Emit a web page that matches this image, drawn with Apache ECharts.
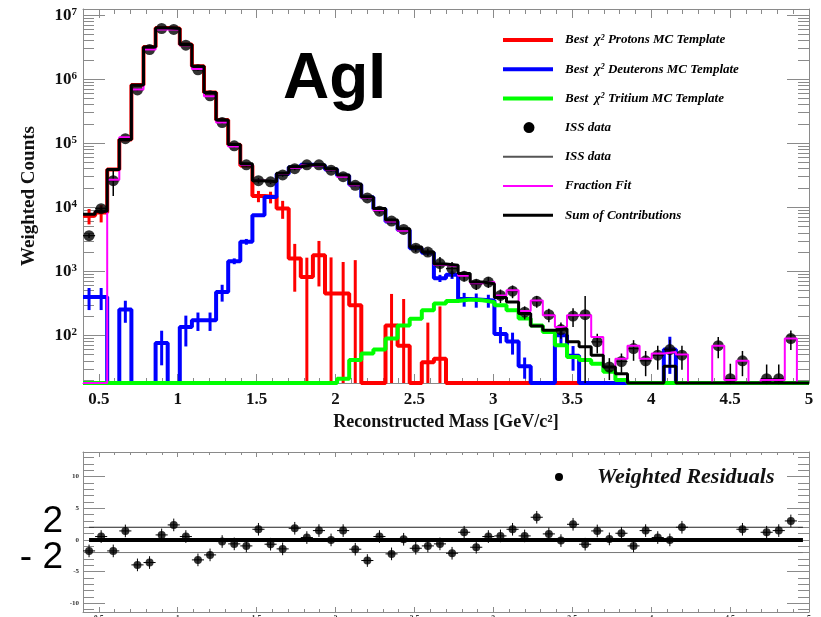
<!DOCTYPE html>
<html>
<head>
<meta charset="utf-8">
<script src="https://cdn.jsdelivr.net/npm/echarts@6.0.0/dist/echarts.min.js"></script>
<style>
  html, body { margin: 0; padding: 0; background: #fff; }
  #chart { width: 821px; height: 617px; }
</style>
</head>
<body>
<div id="chart"></div>
<script>
// ---- binning of the mass histograms ----
const X_MIN = 0.4;
const X_MAX = 5.0;
const N_BINS = 60;
const Y_MIN = 18;        // lower edge of the log axis
const Y_MAX = 1.25e7;    // upper edge of the log axis
const RES_MIN = -11.4;
const RES_MAX = 13.9;

// ---- bin contents, one value per mass bin (0 = empty bin) ----
const issData = [
  3600, 9500, 26000, 118000, 680000, 2900000, 6200000, 6000000, 3400000, 1400000,
  550000, 210000, 91000, 46000, 26000, 25000, 32000, 40000, 46000, 46000,
  38000, 30000, 22000, 14000, 8700, 6100, 4500, 2300, 2000, 1320,
  1100, 840, 630, 680, 420, 490, 230, 340, 210, 123,
  200, 210, 79, 32, 39, 62, 40, 49, 60, 49,
  0, 0, 69, 21, 40, 0, 21, 21, 89, 0
];
const issErr = [
  300, 800, 11000, 9000, 30000, 60000, 80000, 80000, 60000, 40000,
  20000, 10000, 5000, 3000, 2500, 2000, 2000, 2000, 2000, 2000,
  2000, 1500, 1200, 900, 700, 500, 400, 300, 280, 350,
  300, 150, 120, 130, 100, 110, 53, 70, 50, 35,
  65, 200, 27, 12, 13, 22, 17, 20, 25, 20,
  0, 0, 25, 15, 17, 0, 14, 14, 30, 0
];
const fractionFit = [
  0, 0, 27000, 124000, 690000, 2900000, 6000000, 6000000, 3400000, 1440000,
  540000, 210000, 89000, 46000, 26000, 25000, 33000, 41000, 45000, 45000,
  39000, 30000, 22000, 14000, 9000, 6000, 4300, 2400, 2000, 1250,
  1200, 850, 650, 680, 420, 505, 240, 350, 205, 135,
  205, 205, 94, 32, 43, 69, 43, 52, 55, 50,
  0, 0, 69, 20, 40, 0, 20, 20, 89, 0
];
const sumContrib = [
  7800, 8700, 39000, 114000, 810000, 3200000, 6300000, 6200000, 3500000, 1600000,
  620000, 230000, 96000, 48000, 26000, 25000, 34000, 43000, 46000, 46000,
  40000, 32000, 23000, 14500, 9600, 6300, 4600, 2400, 2000, 1300,
  1240, 920, 680, 640, 390, 330, 220, 140, 120, 127,
  79, 66, 49, 32, 25, 0, 0, 0, 33, 0,
  0, 0, 0, 0, 0, 0, 0, 0, 0, 0
];
const protons = [
  7400, 8300, 39000, 114000, 810000, 3200000, 6300000, 6200000, 3500000, 1600000,
  620000, 230000, 95000, 45000, 15000, 14500, 9600, 1580, 813, 1780,
  448, 448, 294, 0, 0, 143, 69, 0, 38, 43,
  0, 0, 0, 0, 0, 0, 0, 0, 0, 0,
  0, 0, 0, 0, 0, 0, 0, 0, 0, 0,
  0, 0, 0, 0, 0, 0, 0, 0, 0, 0
];
const protonsErr = [
  2000, 2500, 0, 0, 0, 0, 0, 0, 0, 0,
  0, 0, 0, 0, 3000, 3000, 3000, 1100, 820, 1200,
  1200, 950, 1200, 0, 0, 300, 300, 0, 120, 240,
  0, 0, 0, 0, 0, 0, 0, 0, 0, 0,
  0, 0, 0, 0, 0, 0, 0, 0, 0, 0,
  0, 0, 0, 0, 0, 0, 0, 0, 0, 0
];
const deuterons = [
  398, 398, 0, 252, 0, 0, 76, 0, 135, 172,
  172, 476, 1440, 2900, 7500, 14500, 33000, 42000, 46000, 45000,
  39000, 31000, 22500, 14300, 9400, 6000, 4400, 2300, 1950, 780,
  880, 370, 360, 350, 105, 80, 33, 0, 0, 100,
  48, 0, 0, 0, 0, 0, 0, 0, 60, 0,
  0, 0, 0, 0, 0, 0, 0, 0, 0, 0
];
const deuteronsErr = [
  150, 150, 0, 95, 0, 0, 42, 0, 68, 55,
  55, 140, 150, 300, 0, 0, 0, 0, 0, 0,
  0, 0, 0, 0, 0, 0, 0, 0, 0, 100,
  120, 90, 90, 80, 30, 30, 12, 0, 0, 30,
  20, 0, 0, 0, 0, 0, 0, 0, 35, 0,
  0, 0, 0, 0, 0, 0, 0, 0, 0, 0
];
const tritium = [
  0, 0, 0, 0, 0, 0, 0, 0, 0, 0,
  0, 0, 0, 0, 0, 0, 0, 0, 0, 0,
  0, 21, 41, 52, 60, 89, 143, 182, 246, 313,
  344, 361, 352, 330, 294, 246, 183, 143, 113, 70,
  46, 41, 36, 27, 20, 0, 0, 0, 0, 0,
  0, 0, 0, 0, 0, 0, 0, 0, 0, 0
];
// weighted residuals (null = no entry)
const residuals = [
  -1.74, 0.53, -1.74, 1.42, -3.95, -3.58, 0.79, 2.37, 0.53, -3.16,
  -2.37, -0.26, -0.63, -0.95, 1.68, -0.68, -1.42, 1.84, 0.37, 1.47,
  0.0, 1.47, -1.47, -3.26, 0.53, -2.21, 0.1, -1.32, -0.95, -0.63,
  -2.11, 1.21, -1.16, 0.53, 0.63, 1.68, 0.63, 3.58, 0.95, -0.11,
  2.47, -0.68, 1.42, 0.16, 1.05, -0.95, 1.47, 0.37, 0.0, 2.0,
  null, null, null, null, 1.68, null, 1.21, 1.47, 3.0, null
];
const residualErr = 1;
const residualBands = [2, 0, -2];

// ---- tick values ----
const xMajorTicks = [0.5, 1, 1.5, 2, 2.5, 3, 3.5, 4, 4.5, 5];
const xMinorTicks = [];
for (let i = 4; i <= 50; i++) if (i % 5 !== 0) xMinorTicks.push(i / 10);
const logMajorTicks = [2, 3, 4, 5, 6, 7];
const logMinorTicks = [];
for (let d = 1; d <= 7; d++) for (let m = 2; m <= 9; m++) {
  const l = Math.log10(m * Math.pow(10, d));
  if (l > Math.log10(Y_MIN) && l < Math.log10(Y_MAX)) logMinorTicks.push(l);
}
const resMajorTicks = [-10, -5, 0, 5, 10];
const resMinorTicks = [];
for (let i = -11; i <= 13; i++) if (i % 5 !== 0) resMinorTicks.push(i);

// ---- derived geometry of the bins ----
const BIN_W = (X_MAX - X_MIN) / N_BINS;
const edges = Array.from({ length: N_BINS + 1 }, (_, i) => X_MIN + i * BIN_W);
const centers = Array.from({ length: N_BINS }, (_, i) => X_MIN + (i + 0.5) * BIN_W);

const floorV = v => (v > 0 ? Math.max(v, Y_MIN) : Y_MIN);
function stepData(vals) {
  const pts = vals.map((v, i) => [edges[i], floorV(v)]);
  pts.push([edges[N_BINS], floorV(vals[N_BINS - 1])]);
  return pts;
}
function errData(vals, errs) {
  const out = [];
  vals.forEach((v, i) => { if (v > 0 && errs[i] > 0) out.push([centers[i], v, errs[i]]); });
  return out;
}

const SERIF = 'Liberation Serif';
const FRAME = '#8a8a8a';

function errRender(color, width, horiz) {
  return function (params, api) {
    const x = api.value(0), v = api.value(1), e = api.value(2);
    const lo = Math.max(v - e, Y_MIN), hi = Math.min(v + e, Y_MAX);
    const pLo = api.coord([x, lo]), pHi = api.coord([x, hi]);
    const children = [{
      type: 'line',
      shape: { x1: pLo[0], y1: pLo[1], x2: pHi[0], y2: pHi[1] },
      style: { stroke: color, lineWidth: width }
    }];
    if (horiz) {
      const a = api.coord([x - BIN_W / 2, v]), b = api.coord([x + BIN_W / 2, v]);
      children.push({ type: 'line', shape: { x1: a[0], y1: a[1], x2: b[0], y2: b[1] },
        style: { stroke: color, lineWidth: 1.2 } });
    }
    return { type: 'group', children };
  };
}
function resErrRender(params, api) {
  const x = api.value(0), v = api.value(1);
  const a = api.coord([x, v - residualErr]), b = api.coord([x, v + residualErr]);
  const l = api.coord([x - BIN_W / 2, v]), r = api.coord([x + BIN_W / 2, v]);
  return {
    type: 'group', children: [
      { type: 'line', shape: { x1: a[0], y1: a[1], x2: b[0], y2: b[1] }, style: { stroke: '#000', lineWidth: 1 } },
      { type: 'line', shape: { x1: l[0], y1: l[1], x2: r[0], y2: r[1] }, style: { stroke: '#000', lineWidth: 1 } }
    ]
  };
}

// ---- axes helpers ----
function tickAxisX(gridIndex, position, values, len, showLine) {
  return {
    type: 'value', gridIndex, position, min: X_MIN, max: X_MAX,
    axisLine: { show: showLine, onZero: false, lineStyle: { color: FRAME, width: 1 } },
    axisTick: { show: true, inside: true, length: len, customValues: values, lineStyle: { color: FRAME } },
    axisLabel: { show: false }, splitLine: { show: false }
  };
}
function tickAxisY(gridIndex, position, min, max, values, len, showLine) {
  return {
    type: 'value', gridIndex, position, min, max,
    axisLine: { show: showLine, onZero: false, lineStyle: { color: FRAME, width: 1 } },
    axisTick: { show: true, inside: true, length: len, customValues: values, lineStyle: { color: FRAME } },
    axisLabel: { show: false }, splitLine: { show: false }
  };
}

const logLo = Math.log10(Y_MIN), logHi = Math.log10(Y_MAX);

const xAxes = [
  { // 0: main mass axis with labels
    type: 'value', gridIndex: 0, position: 'bottom', min: X_MIN, max: X_MAX,
    name: 'Reconstructed Mass [GeV/c²]', nameLocation: 'middle', nameGap: 27,
    nameTextStyle: { fontFamily: SERIF, fontWeight: 'bold', fontSize: 18, color: '#111' },
    axisLine: { show: true, onZero: false, lineStyle: { color: FRAME, width: 1 } },
    axisTick: { show: true, inside: true, length: 9, customValues: xMajorTicks, lineStyle: { color: FRAME } },
    axisLabel: { show: true, customValues: xMajorTicks, margin: 8,
      fontFamily: SERIF, fontWeight: 'bold', fontSize: 17, color: '#111' },
    splitLine: { show: false }
  },
  tickAxisX(0, 'bottom', xMinorTicks, 5, false),   // 1
  tickAxisX(0, 'top', xMajorTicks, 9, true),       // 2
  tickAxisX(0, 'top', xMinorTicks, 5, false),      // 3
  { // 4: residual mass axis
    type: 'value', gridIndex: 1, position: 'bottom', min: X_MIN, max: X_MAX,
    axisLine: { show: true, onZero: false, lineStyle: { color: FRAME, width: 1 } },
    axisTick: { show: true, inside: true, length: 5, customValues: xMajorTicks, lineStyle: { color: FRAME } },
    axisLabel: { show: true, customValues: xMajorTicks, margin: 3,
      fontFamily: SERIF, fontWeight: 'bold', fontSize: 8, color: '#333' },
    splitLine: { show: false }
  },
  tickAxisX(1, 'bottom', xMinorTicks, 3, false),   // 5
  tickAxisX(1, 'top', xMajorTicks, 5, true),       // 6
  tickAxisX(1, 'top', xMinorTicks, 3, false)       // 7
];

const yAxes = [
  { // 0: counts, log scale
    type: 'log', gridIndex: 0, position: 'left', min: Y_MIN, max: Y_MAX, logBase: 10, splitNumber: 6,
    name: 'Weighted Counts', nameLocation: 'middle', nameGap: 44, nameRotate: 90,
    nameTextStyle: { fontFamily: SERIF, fontWeight: 'bold', fontSize: 19, color: '#111' },
    axisLine: { show: true, lineStyle: { color: FRAME, width: 1 } },
    axisTick: { show: false },
    axisLabel: {
      show: true, margin: 6,
      formatter: v => {
        const l = Math.log10(v), n = Math.round(l);
        return Math.abs(l - n) < 1e-6 ? '{b|10}{e|' + n + '}' : '';
      },
      rich: {
        b: { fontFamily: SERIF, fontWeight: 'bold', fontSize: 17, color: '#111' },
        e: { fontFamily: SERIF, fontWeight: 'bold', fontSize: 11, color: '#111', verticalAlign: 'top' }
      }
    },
    splitLine: { show: false }
  },
  tickAxisY(0, 'left', logLo, logHi, logMajorTicks, 22, false),   // 1
  tickAxisY(0, 'left', logLo, logHi, logMinorTicks, 11, false),   // 2
  tickAxisY(0, 'right', logLo, logHi, logMajorTicks, 22, true),   // 3
  tickAxisY(0, 'right', logLo, logHi, logMinorTicks, 11, false),  // 4
  { // 5: residuals
    type: 'value', gridIndex: 1, position: 'left', min: RES_MIN, max: RES_MAX,
    axisLine: { show: true, onZero: false, lineStyle: { color: FRAME, width: 1 } },
    axisTick: { show: true, inside: true, length: 22, customValues: resMajorTicks, lineStyle: { color: FRAME } },
    axisLabel: { show: true, customValues: resMajorTicks, margin: 4,
      fontFamily: SERIF, fontWeight: 'bold', fontSize: 7, color: '#333' },
    splitLine: { show: false }
  },
  tickAxisY(1, 'left', RES_MIN, RES_MAX, resMinorTicks, 11, false),   // 6
  tickAxisY(1, 'right', RES_MIN, RES_MAX, resMajorTicks, 22, true),   // 7
  tickAxisY(1, 'right', RES_MIN, RES_MAX, resMinorTicks, 11, false)   // 8
];

function hist(name, vals, color, width, z) {
  return {
    name, type: 'line', xAxisIndex: 0, yAxisIndex: 0, step: 'end',
    data: stepData(vals), showSymbol: false, clip: false, z,
    lineStyle: { color, width }, itemStyle: { color }, silent: true
  };
}

const series = [
  hist('Best χ² Protons MC Template', protons, '#ff0000', 4, 2),
  {
    type: 'custom', xAxisIndex: 0, yAxisIndex: 0, z: 2, clip: true,
    data: errData(protons, protonsErr), renderItem: errRender('#ff0000', 3, false)
  },
  hist('Best χ² Deuterons MC Template', deuterons, '#0000ff', 4, 3),
  {
    type: 'custom', xAxisIndex: 0, yAxisIndex: 0, z: 3, clip: true,
    data: errData(deuterons, deuteronsErr), renderItem: errRender('#0000ff', 3, false)
  },
  hist('Best χ² Tritium MC Template', tritium, '#00ff00', 4, 4),
  {
    type: 'custom', xAxisIndex: 0, yAxisIndex: 0, z: 5, clip: true,
    data: errData(issData, issErr), renderItem: errRender('#000000', 1.5, true)
  },
  {
    name: 'ISS data', type: 'scatter', xAxisIndex: 0, yAxisIndex: 0, z: 5,
    data: issData.map((v, i) => (v > 0 ? [centers[i], v] : null)).filter(d => d),
    symbol: 'circle', symbolSize: 11, itemStyle: { color: '#000' }
  },
  hist('Fraction Fit', fractionFit, '#ff00ff', 2, 6),
  hist('Sum of Contributions', sumContrib, '#000000', 3, 7),

  // residual panel
  ...residualBands.map(b => ({
    type: 'line', xAxisIndex: 4, yAxisIndex: 5, z: 3, showSymbol: false, silent: true,
    data: [[centers[0], b], [centers[N_BINS - 1], b]],
    lineStyle: { color: b === 0 ? '#000' : (b > 0 ? '#222' : '#777'), width: b === 0 ? 4 : 1 }
  })),
  {
    type: 'custom', xAxisIndex: 4, yAxisIndex: 5, z: 4,
    data: residuals.map((v, i) => (v === null ? null : [centers[i], v])).filter(d => d),
    renderItem: resErrRender
  },
  {
    name: 'Weighted Residuals', type: 'scatter', xAxisIndex: 4, yAxisIndex: 5, z: 5,
    data: residuals.map((v, i) => (v === null ? null : [centers[i], v])).filter(d => d),
    symbol: 'circle', symbolSize: 8, itemStyle: { color: '#000' }
  }
];

// ---- legend drawn as graphic elements ----
const legendRows = [
  { kind: 'line', color: '#ff0000', width: 4, pre: 'Best  χ', sup: '2', post: ' Protons MC Template' },
  { kind: 'line', color: '#0000ff', width: 4, pre: 'Best  χ', sup: '2', post: ' Deuterons MC Template' },
  { kind: 'line', color: '#00ff00', width: 4, pre: 'Best  χ', sup: '2', post: ' Tritium MC Template' },
  { kind: 'dot', color: '#000', text: 'ISS data' },
  { kind: 'line', color: '#555', width: 2, text: 'ISS data' },
  { kind: 'line', color: '#ff00ff', width: 2, text: 'Fraction Fit' },
  { kind: 'line', color: '#000', width: 3, text: 'Sum of Contributions' }
];
const legendRich = {
  t: { fontFamily: SERIF, fontWeight: 'bold', fontStyle: 'italic', fontSize: 13, color: '#111' },
  s: { fontFamily: SERIF, fontWeight: 'bold', fontStyle: 'italic', fontSize: 8, color: '#111', verticalAlign: 'top' }
};
const graphics = [];
legendRows.forEach((r, i) => {
  const y = 40 + i * 29.2;
  if (r.kind === 'line') {
    graphics.push({ type: 'line', shape: { x1: 503, y1: y, x2: 553, y2: y },
      style: { stroke: r.color, lineWidth: r.width } });
  } else {
    graphics.push({ type: 'circle', shape: { cx: 529, cy: y, r: 5.5 }, style: { fill: r.color } });
  }
  const txt = r.text ? '{t|' + r.text + '}' : '{t|' + r.pre + '}{s|' + r.sup + '}{t|' + r.post + '}';
  graphics.push({ type: 'text', x: 565, y: y,
    style: { text: txt, rich: legendRich, verticalAlign: 'middle', align: 'left' } });
});
graphics.push({ type: 'text', x: 283, y: 48,
  style: { text: 'AgI', fontFamily: 'Liberation Sans', fontWeight: 'bold', fontSize: 64,
    fill: '#000', verticalAlign: 'top', align: 'left' } });
graphics.push({ type: 'circle', shape: { cx: 559, cy: 477, r: 4 }, style: { fill: '#000' } });
graphics.push({ type: 'text', x: 597, y: 477,
  style: { text: 'Weighted Residuals', fontFamily: SERIF, fontWeight: 'bold', fontStyle: 'italic',
    fontSize: 22, fill: '#111', verticalAlign: 'middle', align: 'left' } });
graphics.push({ type: 'text', x: 63, y: 503,
  style: { text: '2', fontFamily: 'Liberation Sans', fontSize: 37, fill: '#000',
    align: 'right', verticalAlign: 'top' } });
graphics.push({ type: 'text', x: 63, y: 539,
  style: { text: '- 2', fontFamily: 'Liberation Sans', fontSize: 37, fill: '#000',
    align: 'right', verticalAlign: 'top' } });

const chart = echarts.init(document.getElementById('chart'), null, { renderer: 'canvas' });
chart.setOption({
  animation: false,
  backgroundColor: '#ffffff',
  grid: [
    { left: 83, right: 12, top: 9, height: 374, containLabel: false, outerBoundsMode: 'none' },
    { left: 83, right: 12, top: 452, height: 160, containLabel: false, outerBoundsMode: 'none' }
  ],
  xAxis: xAxes,
  yAxis: yAxes,
  series,
  graphic: graphics
});
</script>
</body>
</html>
